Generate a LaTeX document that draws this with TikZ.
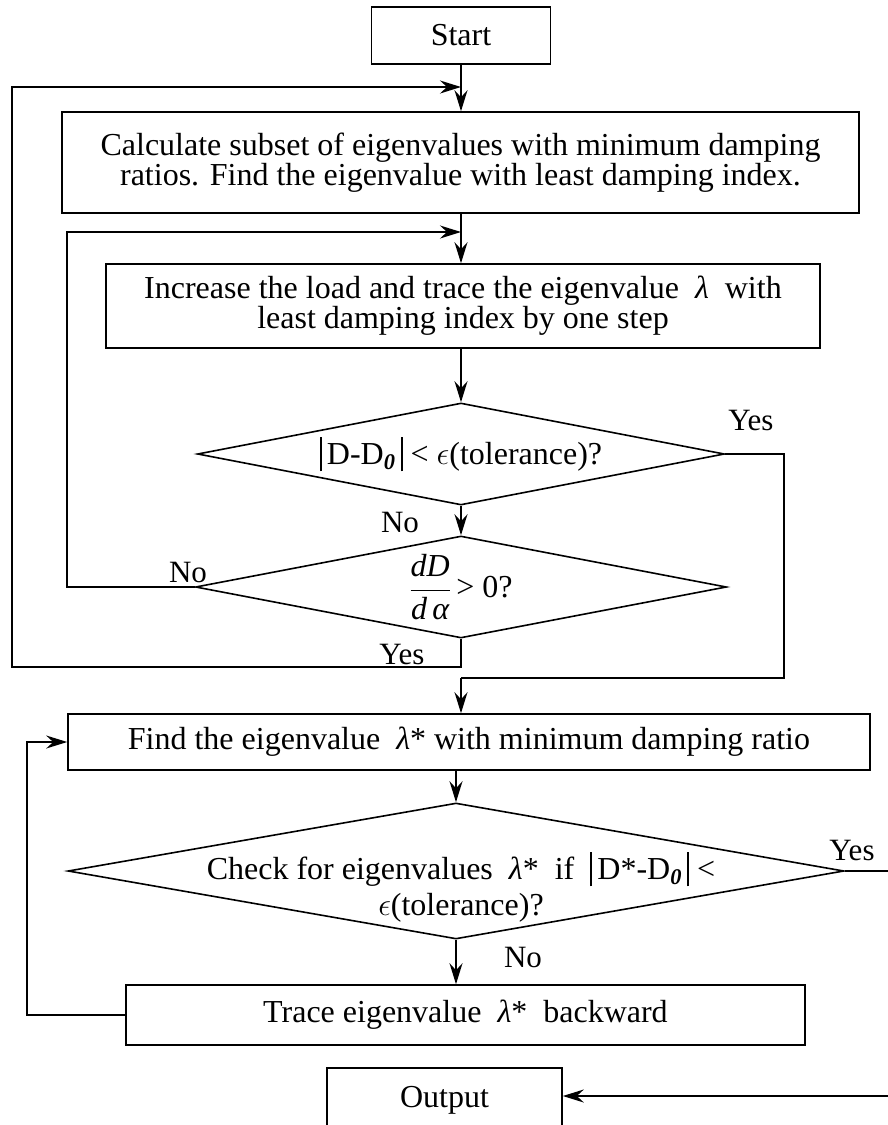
\RequirePackage{fix-cm}
\documentclass[tikz,border=0pt]{standalone}
\usepackage{fontspec}
\setmainfont{Liberation Serif}
\usetikzlibrary{shapes.geometric,arrows.meta}
\newcommand{\vbar}{\rule[-0.22em]{1.8pt}{1.08em}}
\newcommand{\zsub}{\textsubscript{\bfseries\itshape 0}}
\newcommand{\eps}{\ensuremath{\epsilon}}
\begin{document}
\begin{tikzpicture}[x=1pt,y=-1pt,
  box/.style={draw, line width=1.6pt, rectangle, inner sep=0pt, align=center, font=\fontsize{32}{30}\selectfont},
  dia/.style={draw, line width=1.6pt, diamond, inner sep=0pt},
  dtext/.style={inner sep=0pt, align=center, font=\fontsize{32}{36}\selectfont},
  lbl/.style={inner sep=0pt, font=\fontsize{31}{31}\selectfont},
  ln/.style={line width=1.6pt},
  arr/.style={line width=1.6pt, -{Stealth[length=21pt,width=13pt,inset=7pt]}}]
\useasboundingbox (0,0) rectangle (887,1125);

% nodes
\node[box, minimum width=179pt, minimum height=57pt] (start) at (461,35.5) {Start};
\node[box, minimum width=797pt, minimum height=101pt] (calc) at (460.5,162.5)
  {Calculate subset of eigenvalues with minimum damping\\ratios. Find the eigenvalue with least damping index.};
\node[box, minimum width=714pt, minimum height=84pt] (inc) at (463,306)
  {Increase the load and trace the eigenvalue \ \textit{λ} \ with\\least damping index by one step};
\node[dia, minimum width=527pt, minimum height=102pt] (d1) at (461,454) {};
\node[dtext] (d1t) at (d1) {\vbar\,D-D\zsub\,\vbar\ < \eps(tolerance)?};
\node[dia, minimum width=531pt, minimum height=102pt] (d2) at (461,587) {};
\node[dtext] (d2t) at (d2) {$\displaystyle\frac{\textit{dD}}{\textit{d\,α}}$\,> 0?};
\node[box, minimum width=802pt, minimum height=56pt] (find) at (469,742)
  {Find the eigenvalue \ \textit{λ}* with minimum damping ratio};
\node[dia, minimum width=776pt, minimum height=136pt] (d3) at (456,871) {};
\node[dtext] (d3t) at (461,887)
  {Check for eigenvalues \ \textit{λ}* \ if \ \vbar\,D*-D\zsub\,\vbar\ <\\\eps(tolerance)?};
\node[box, minimum width=679pt, minimum height=60pt] (trace) at (465.5,1015)
  {Trace eigenvalue \ \textit{λ}* \ backward};
\node[box, minimum width=235pt, minimum height=64pt] (out) at (444.5,1100) {Output};

% labels
\node[lbl] (y1) at (751,420) {Yes};
\node[lbl] (n1) at (400,522) {No};
\node[lbl] (n2) at (188,572) {No};
\node[lbl] (y2) at (402,654) {Yes};
\node[lbl] (y3) at (852,850) {Yes};
\node[lbl] (n3) at (523,957) {No};

% helper coordinates
\coordinate (ja) at (461,87);
\coordinate (jb) at (461,232);
\coordinate (r1) at (784,454);
\coordinate (r2) at (784,678);
\coordinate (jc) at (461,678);
\coordinate (l2a) at (67,587);
\coordinate (l2b) at (67,232);
\coordinate (o1) at (461,667);
\coordinate (o2) at (12,667);
\coordinate (o3) at (12,87);
\coordinate (t1) at (27,1015);
\coordinate (t2) at (27,742);
\coordinate (ye) at (895,871);
\coordinate (oe) at (895,1096);

% connectors
\draw[arr] (start.south -| ja) -- (calc.north -| ja);
\draw[arr] (calc.south -| jb) -- (inc.north -| jb);
\draw[arr] (inc.south -| d1.north) -- (d1.north);
\draw[arr] (d1.south) -- (d2.north);
\draw[ln] (d1.east) -- (r1) -- (r2) -- (jc);
\draw[arr] (jc) -- (jc |- find.north);
\draw[arr] (d2.west) -- (l2a) -- (l2b) -- (jb);
\draw[arr] (d2.south) -- (o1) -- (o2) -- (o3) -- (ja);
\draw[arr] (find.south -| d3.north) -- (d3.north);
\draw[arr] (d3.south) -- (d3.south |- trace.north);
\draw[arr] (trace.west) -- (t1) -- (t2) -- (find.west);
\draw[ln] (d3.east) -- (ye);
\draw[arr] (oe) -- (out.east |- oe);
\end{tikzpicture}
\end{document}
